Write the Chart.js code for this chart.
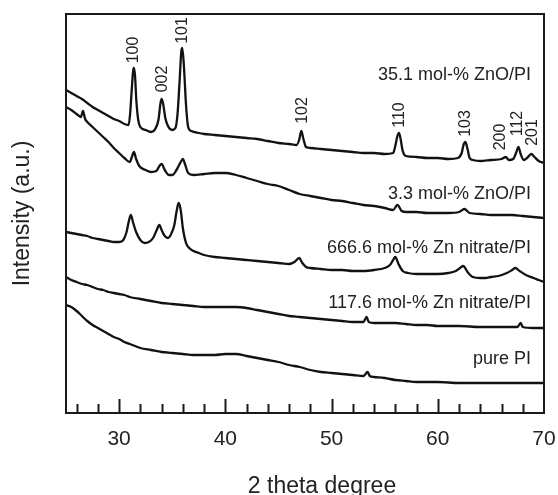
<!DOCTYPE html>
<html><head><meta charset="utf-8">
<script src="https://cdn.jsdelivr.net/npm/chart.js@4.4.1/dist/chart.umd.min.js"></script>
<style>html,body{margin:0;padding:0;background:#fff;} canvas{display:block;}</style>
</head><body>
<canvas id="c" width="558" height="495"></canvas>
<script>
const FONT = '"Liberation Sans", Arial, Helvetica, sans-serif';

// 35.1 mol-% ZnO/PI
const zno35_x = [25,25.5,26,26.5,27,27.5,28,28.5,29,29.5,30,30.5,30.9,31.05,31.2,31.32,31.4,31.5,31.62,31.8,32,32.5,33,33.4,33.7,33.9,34.0,34.15,34.35,34.6,35,35.3,35.5,35.7,35.85,35.95,36.1,36.3,36.5,36.8,37.5,38,39,40,41,42,43,44,45,46,46.7,46.95,47.15,47.35,47.6,48,49,50,51,52,53,54,55,55.8,56.0,56.2,56.35,56.5,56.7,57,58,59,60,61,61.9,62.25,62.45,62.6,62.8,63.0,63.3,64,65,66,66.4,66.7,67.1,67.4,67.6,67.8,68.1,68.4,68.8,69.1,69.5,70];
const zno35_y = [323,320,317,314,310,306,303,300,297,294,292,289,288,301,325,342,345,337,313,293,286,283,281,284,293,310,314,309,295,287,283,285,299,333,361,365,347,308,286,282,280,279,278,277,276,275,274,272,270,269,268,273,282,274,266,265,264,263,262,261,260,260,259,260,267,277,280,274,262,257,256,255,255,254,255,260,269,271,264,255,253,252,253,254,256,253,254,261,266,259,253,255,259,256,252,250];

// 3.3 mol-% ZnO/PI
const zno3_x = [25,25.5,26,26.4,26.6,26.8,27,27.5,28,28.5,29,29.5,30,30.5,31,31.2,31.4,31.6,31.9,32.5,33,33.5,33.8,34.0,34.3,34.7,35.0,35.4,35.8,36.0,36.2,36.5,37,38,39,40,41,42,43,44,45,46,47,48,49,50,51,52,53,54,55,55.8,56.2,56.6,57,58,59,60,61,62,62.5,63,64,65,66,67,68,69,70];
const zno3_y = [306,303,299,296,302,294,291,286,281,276,271,265,260,255,251,256,261,254,247,243,241,242,247,249,243,238,238,243,251,254,249,240,238,239,240,240,238,235,232,229,227,223,219,217,215,213,212,210,208,207,205,203,208,202,201,201,200,200,200,201,204,200,199,198,198,198,197,196,195];

// 666.6 mol-% Zn nitrate/PI
const nit666_x = [25,25.5,26,26.5,27,27.5,28,28.5,29,29.5,30,30.4,30.7,30.9,31.1,31.3,31.6,32,32.4,32.8,33.2,33.5,33.8,34.0,34.3,34.6,34.9,35.2,35.4,35.6,35.8,36.0,36.3,36.6,37,37.5,38,39,40,41,42,43,44,45,46,46.5,46.95,47.25,47.6,48,49,50,51,52,53,54,55,55.5,55.8,56.0,56.3,56.7,57.2,58,59,60,61,61.7,62.1,62.4,62.8,63.3,64,64.5,65,65.7,66.5,67.0,67.3,67.7,68.3,69,69.5,70];
const nit666_y = [181,180,179,178,177,175,174,173,172,171,171,173,181,191,198,191,181,173,170,171,175,182,188,183,177,175,179,188,201,210,203,185,170,165,162,160,158,156,155,154,153,152,151,150,149,151,155,150,146,145,144,143,143,142,142,143,145,148,153,156,149,142,140,139,139,139,140,142,145,147,141,136,135,135,136,137,140,143,145,142,138,135,133,131];

// 117.6 mol-% Zn nitrate/PI
const nit117_x = [25,25.5,26,26.5,27,27.5,28,28.5,29,29.5,30,30.5,31,32,33,34,35,36,37,38,39,40,41,42,43,44,45,46,47,48,49,50,51,52,53,53.3,53.5,54,55,56,57,58,59,60,62,64,66,67.5,67.8,68,69,70];
const nit117_y = [136,133,131,129,128,126,124,123,121,120,119,118,116,114,112,110,109,108,107,106,106,106,106,105,103,101,99,97,96,95,94,93,92,91,91,96,91,90,90,90,89,88,88,87,87,86,86,86,90,86,85,85];

// pure PI
const pi_x = [25,25.5,26,26.5,27,27.5,28,28.5,29,29.5,30,30.5,31,31.5,32,33,34,35,36,37,38,39,40,41,42,43,44,45,46,47,48,49,50,51,52,53,53.4,53.6,54,55,56,57,58,60,62,64,66,68,70];
const pi_y = [108,106,102,97,92,88,85,82,79,76,74,71,69,67,65,63,61,60,59,58,58,58,59,59,57,55,53,51,48,46,43,41,40,39,38,37,41,37,36,35,33,32,31,31,30,30,30,30,30];

const seriesNames = ['35.1 mol-% ZnO/PI','3.3 mol-% ZnO/PI','666.6 mol-% Zn nitrate/PI','117.6 mol-% Zn nitrate/PI','pure PI'];
const seriesLabelX = 68.78;
const seriesLabelY = [333, 214.5, 160.5, 105, 49];

const peakNames = ['100','002','101','102','110','103','200','112','201'];
const peakPos = [31.4, 34.09, 35.97, 47.32, 56.36, 62.66, 65.87, 67.56, 68.97];
const peakLabelY = [363, 334, 382.5, 302.5, 298, 289.5, 276, 289.5, 280.5];

const xTicks = [26,28,30,32,34,36,38,40,42,44,46,48,50,52,54,56,58,60,62,64,66,68,70];
const xLabelled = [30,40,50,60,70];

const xs = [zno35_x, zno3_x, nit666_x, nit117_x, pi_x];
const ys = [zno35_y, zno3_y, nit666_y, nit117_y, pi_y];

const datasets = xs.map((xa, i) => ({
  label: seriesNames[i],
  data: xa.map((x, k) => ({x: x, y: ys[i][k]})),
  borderColor: '#121212',
  borderWidth: 2.3,
  pointRadius: 0,
  cubicInterpolationMode: 'monotone',
  fill: false
}));

const overlay = {
  id: 'overlay',
  afterDraw(chart) {
    const {ctx, chartArea: a, scales: {x, y}} = chart;
    ctx.save();
    ctx.strokeStyle = '#1a1a1a';
    ctx.lineWidth = 2;
    ctx.strokeRect(a.left, a.top, a.right - a.left, a.bottom - a.top);
    // inward ticks
    x.ticks.forEach(t => {
      const v = t.value;
      if (v <= 25 || v >= 70) return;
      const px = Math.round(x.getPixelForValue(v)) + 0.5;
      const len = xLabelled.includes(v) ? 14 : 9;
      ctx.beginPath();
      ctx.moveTo(px, a.bottom);
      ctx.lineTo(px, a.bottom - len);
      ctx.stroke();
    });
    ctx.fillStyle = '#222';
    // series labels
    ctx.font = '18px ' + FONT;
    ctx.textAlign = 'right';
    ctx.textBaseline = 'alphabetic';
    seriesNames.forEach((n, i) => {
      ctx.fillText(n, x.getPixelForValue(seriesLabelX), y.getPixelForValue(seriesLabelY[i]));
    });
    // peak labels (rotated)
    ctx.font = '16px ' + FONT;
    ctx.textAlign = 'center';
    ctx.textBaseline = 'middle';
    peakNames.forEach((n, i) => {
      ctx.save();
      ctx.translate(x.getPixelForValue(peakPos[i]), y.getPixelForValue(peakLabelY[i]));
      ctx.rotate(-Math.PI / 2);
      ctx.fillText(n, 0, 0);
      ctx.restore();
    });
    // axis titles
    ctx.font = '23px ' + FONT;
    ctx.textAlign = 'center';
    ctx.textBaseline = 'alphabetic';
    ctx.fillText('2 theta degree', 322, 493);
    ctx.save();
    ctx.translate(23, (a.top + a.bottom) / 2);
    ctx.rotate(-Math.PI / 2);
    ctx.textBaseline = 'middle';
    ctx.fillText('Intensity (a.u.)', 0, 0);
    ctx.restore();
    ctx.restore();
  }
};

new Chart(document.getElementById('c'), {
  type: 'line',
  data: {datasets},
  options: {
    responsive: false,
    animation: false,
    devicePixelRatio: 1,
    layout: {padding: {top: 14, right: 14, left: 0, bottom: 0}},
    plugins: {legend: {display: false}, tooltip: {enabled: false}},
    scales: {
      x: {
        type: 'linear',
        min: 25, max: 70,
        afterBuildTicks: s => { s.ticks = xTicks.map(v => ({value: v})); },
        afterFit: s => { s.height = 82; s.paddingLeft = 0; s.paddingRight = 0; },
        grid: {display: false, drawTicks: false},
        border: {display: false},
        ticks: {
          autoSkip: false, maxRotation: 0, padding: 14,
          color: '#222',
          font: {family: FONT, size: 21},
          callback: v => xLabelled.includes(v) ? String(v) : ''
        }
      },
      y: {
        type: 'linear',
        min: 0, max: 399,
        afterFit: s => { s.width = 66; s.paddingTop = 0; s.paddingBottom = 0; },
        grid: {display: false, drawTicks: false},
        border: {display: false},
        ticks: {display: false}
      }
    }
  },
  plugins: [overlay]
});
</script>
</body></html>
